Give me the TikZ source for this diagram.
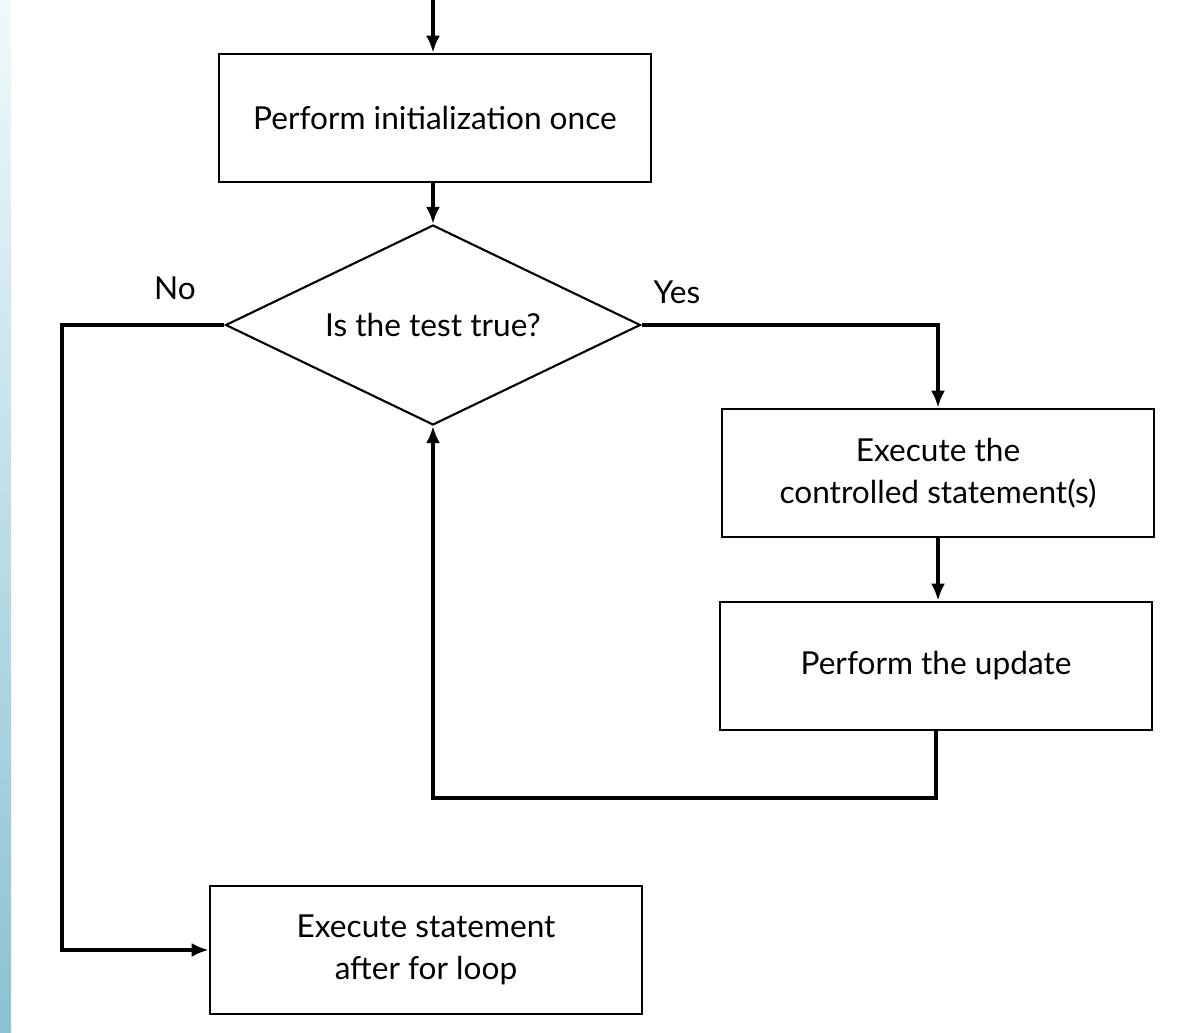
\documentclass[tikz,border=0pt]{standalone}
\usepackage{fontspec}
\setmainfont{Lato}
\usetikzlibrary{shapes.geometric,arrows.meta}
\definecolor{striptop}{RGB}{240,249,252}
\definecolor{stripbot}{RGB}{138,194,210}
\begin{document}
\begin{tikzpicture}[x=0.02cm,y=-0.02cm,
  box/.style={rectangle,draw,line width=1.5pt,minimum width=8.64cm,minimum height=2.56cm,align=center,font=\fontsize{18}{24}\selectfont},
  arr/.style={-{Latex[length=0.34cm,width=0.28cm]},line width=2pt}]
\useasboundingbox (0,0) rectangle (1186,1033);
\shade [top color=striptop,bottom color=stripbot] (0,0) rectangle (11,1033);

\node (i) [box] at (435,118) {Perform initialization once};
\node (t) [diamond,draw,line width=1.2pt,inner sep=0pt,aspect=2.075,minimum width=8.3cm,minimum height=4cm,font=\fontsize{18}{24}\selectfont] at (433,325) {Is the test true?};
\node (c) [box] at (938,473) {Execute the\\controlled statement(s)};
\node (u) [box] at (936,666) {Perform the update};
\node (a) [box] at (426,950) {Execute statement\\after for loop};
\node (no) [font=\fontsize{18}{22}\selectfont] at (175,288) {No};
\node (yes) [font=\fontsize{18}{22}\selectfont] at (677,292) {Yes};

\coordinate (s) at (433,0);
\coordinate (l) at (62,0);
\coordinate (b) at (433,798);

\draw [arr] (s) -- (s |- i.north);
\draw [arr] (s |- i.south) -- (t.north);
\draw [arr] (t.east) -| (c.north);
\draw [arr] (c.south) -- (c.south |- u.north);
\draw [arr] (u.south) |- (b) -- (t.south);
\draw [arr] (t.west) -- (t.west -| l) |- (a.west);
\end{tikzpicture}
\end{document}
